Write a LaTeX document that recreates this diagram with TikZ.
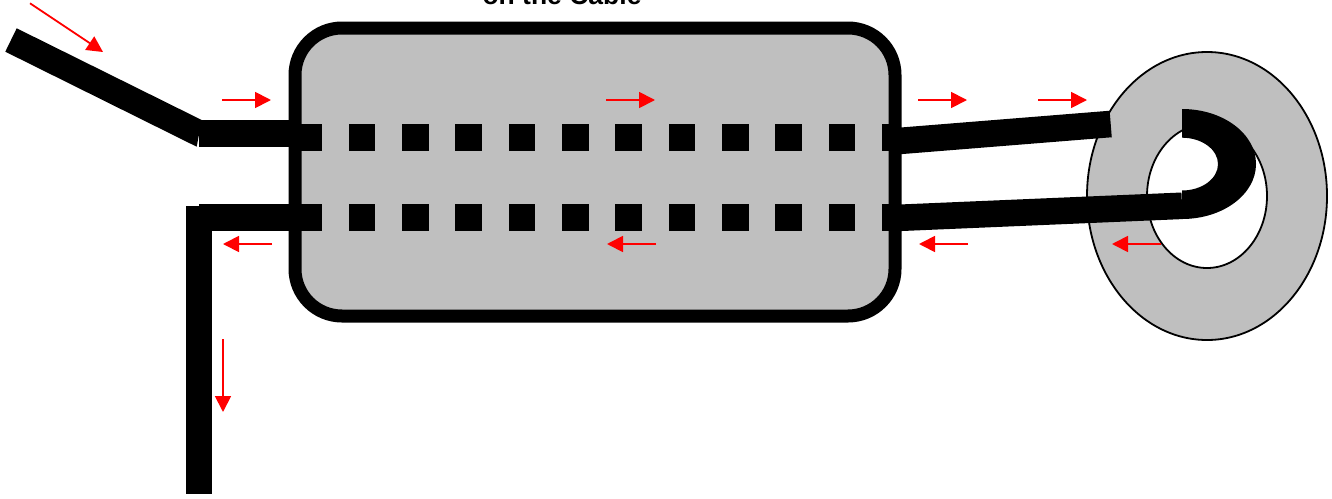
\documentclass[tikz,border=0pt]{standalone}
\usepackage{fontspec}
\setmainfont{Liberation Sans}
\usetikzlibrary{arrows.meta}
\definecolor{coregrey}{RGB}{191,191,191}
\tikzset{
  x=1pt,y=-1pt,
  wire/.style={line width=26.6pt,black,line cap=butt,line join=miter},
  flow/.style={draw=red,line width=1.8pt,-{Triangle[length=16pt,width=16pt,fill=red]}},
  ring/.style={draw=black,line width=1.8pt},
  grey/.style={fill=coregrey}
}
\begin{document}
\begin{tikzpicture}
\useasboundingbox (0,0) rectangle (1332,498);
\clip (0,0) rectangle (1332,498);
% title, cut by the top edge as in the reference
\node[font=\bfseries\fontsize{26.5pt}{30pt}\selectfont,anchor=base,inner sep=0pt] (title) at (562,4.5) {on the Cable};
% enclosure
\draw[grey,draw=black,line width=13pt,rounded corners=47pt] (295,28) rectangle (895,316);
% core
\path[grey,ring,even odd rule] (1207,196) ellipse [x radius=120,y radius=144] (1207,196) ellipse [x radius=60,y radius=72];
% wires outside
\fill[black] (16.7,28.3) -- (201.7,120) -- (196.7,146.7) -- (5.3,51.7) -- cycle;
\draw[wire] (199,133.7) -- (295,133.7);
\draw[wire] (199,217.5) -- (295,217.5);
\draw[wire] (199,206) -- (199,494);
\draw[wire] (895,141.3) -- (1110.7,124);
\draw[wire] (895,218) -- (1182,205.8);
% turn through the core
\fill[black] (1182,109) arc[start angle=-90,end angle=90,x radius=74,y radius=55]
  -- (1182,190.5) arc[start angle=90,end angle=-90,x radius=36,y radius=26.4] -- cycle;
% wires inside
\foreach \k in {0,...,10}{
  \fill[black] ({295.5+53.3*\k},124.3) rectangle ++(26.6,26.7);
  \fill[black] ({295.5+53.3*\k},204.3) rectangle ++(26.6,26.7);
}
\fill[black] (881.8,124.3) rectangle (900,151);
\fill[black] (881.8,204.3) rectangle (900,231);
% current direction
\draw[flow] (30,3.3) -- (103,52);
\foreach \a in {222,606,918,1038}{\draw[flow] (\a,100) -- ++(49,0);}
\foreach \a in {272,656,968,1161}{\draw[flow] (\a,244) -- ++(-49,0);}
\draw[flow] (223,339) -- (223,412);
\end{tikzpicture}
\end{document}
